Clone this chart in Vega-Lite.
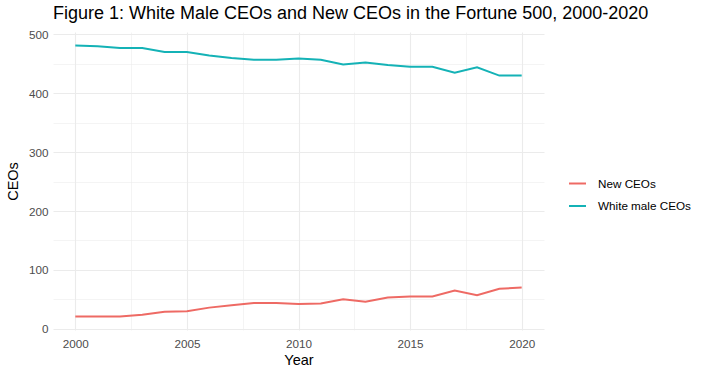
{
  "$schema": "https://vega.github.io/schema/vega-lite/v6.json",
  "autosize": "none",
  "width": 491,
  "height": 298,
  "padding": {"left": 53, "top": 32, "right": 166, "bottom": 46},
  "background": "white",
  "title": {
    "text": "Figure 1: White Male CEOs and New CEOs in the Fortune 500, 2000-2020",
    "anchor": "start",
    "frame": "group",
    "font": "Liberation Sans",
    "fontSize": 18,
    "fontWeight": "normal",
    "color": "black",
    "dx": 0,
    "offset": 6
  },
  "config": {
    "view": {"stroke": null},
    "axis": {
      "labelFont": "Liberation Sans",
      "titleFont": "Liberation Sans",
      "labelFontSize": 11.7,
      "titleFontSize": 14.5,
      "titleFontWeight": "normal",
      "labelColor": "#4D4D4D",
      "titleColor": "black",
      "domain": false,
      "ticks": false,
      "gridColor": "#EBEBEB"
    },
    "legend": {
      "labelFont": "Liberation Sans",
      "labelFontSize": 11.7,
      "labelColor": "black"
    }
  },
  "data": {
    "values": [
      {"Year": 2000, "series": "White male CEOs", "CEOs": 481},
      {"Year": 2001, "series": "White male CEOs", "CEOs": 480},
      {"Year": 2002, "series": "White male CEOs", "CEOs": 477},
      {"Year": 2003, "series": "White male CEOs", "CEOs": 477},
      {"Year": 2004, "series": "White male CEOs", "CEOs": 470},
      {"Year": 2005, "series": "White male CEOs", "CEOs": 470},
      {"Year": 2006, "series": "White male CEOs", "CEOs": 464},
      {"Year": 2007, "series": "White male CEOs", "CEOs": 460},
      {"Year": 2008, "series": "White male CEOs", "CEOs": 457},
      {"Year": 2009, "series": "White male CEOs", "CEOs": 457},
      {"Year": 2010, "series": "White male CEOs", "CEOs": 459},
      {"Year": 2011, "series": "White male CEOs", "CEOs": 457},
      {"Year": 2012, "series": "White male CEOs", "CEOs": 449},
      {"Year": 2013, "series": "White male CEOs", "CEOs": 452},
      {"Year": 2014, "series": "White male CEOs", "CEOs": 448},
      {"Year": 2015, "series": "White male CEOs", "CEOs": 445},
      {"Year": 2016, "series": "White male CEOs", "CEOs": 445},
      {"Year": 2017, "series": "White male CEOs", "CEOs": 435},
      {"Year": 2018, "series": "White male CEOs", "CEOs": 444},
      {"Year": 2019, "series": "White male CEOs", "CEOs": 430},
      {"Year": 2020, "series": "White male CEOs", "CEOs": 430},
      {"Year": 2000, "series": "New CEOs", "CEOs": 21},
      {"Year": 2001, "series": "New CEOs", "CEOs": 21},
      {"Year": 2002, "series": "New CEOs", "CEOs": 21},
      {"Year": 2003, "series": "New CEOs", "CEOs": 24},
      {"Year": 2004, "series": "New CEOs", "CEOs": 29},
      {"Year": 2005, "series": "New CEOs", "CEOs": 30},
      {"Year": 2006, "series": "New CEOs", "CEOs": 36},
      {"Year": 2007, "series": "New CEOs", "CEOs": 40},
      {"Year": 2008, "series": "New CEOs", "CEOs": 44},
      {"Year": 2009, "series": "New CEOs", "CEOs": 44},
      {"Year": 2010, "series": "New CEOs", "CEOs": 42},
      {"Year": 2011, "series": "New CEOs", "CEOs": 43},
      {"Year": 2012, "series": "New CEOs", "CEOs": 50},
      {"Year": 2013, "series": "New CEOs", "CEOs": 46},
      {"Year": 2014, "series": "New CEOs", "CEOs": 53},
      {"Year": 2015, "series": "New CEOs", "CEOs": 55},
      {"Year": 2016, "series": "New CEOs", "CEOs": 55},
      {"Year": 2017, "series": "New CEOs", "CEOs": 65},
      {"Year": 2018, "series": "New CEOs", "CEOs": 57},
      {"Year": 2019, "series": "New CEOs", "CEOs": 68},
      {"Year": 2020, "series": "New CEOs", "CEOs": 70}
    ]
  },
  "mark": {"type": "line", "strokeWidth": 2},
  "encoding": {
    "x": {
      "field": "Year",
      "type": "quantitative",
      "scale": {"domain": [1999, 2021], "nice": false, "zero": false},
      "axis": {
        "values": [2000, 2002.5, 2005, 2007.5, 2010, 2012.5, 2015, 2017.5, 2020],
        "labelExpr": "datum.value % 5 === 0 ? format(datum.value, 'd') : ''",
        "labelPadding": 8,
        "titlePadding": 4,
        "gridWidth": {"condition": {"test": "datum.value % 5 === 0", "value": 1.1}, "value": 0.55}
      }
    },
    "y": {
      "field": "CEOs",
      "type": "quantitative",
      "scale": {"domain": [-2, 504], "nice": false, "zero": false},
      "axis": {
        "values": [0, 50, 100, 150, 200, 250, 300, 350, 400, 450, 500],
        "labelExpr": "datum.value % 100 === 0 ? format(datum.value, 'd') : ''",
        "labelPadding": 5,
        "titlePadding": 8,
        "gridWidth": {"condition": {"test": "datum.value % 100 === 0", "value": 1.1}, "value": 0.55}
      }
    },
    "color": {
      "field": "series",
      "type": "nominal",
      "scale": {"domain": ["New CEOs", "White male CEOs"], "range": ["#EE6A64", "#14B2B6"]},
      "legend": {
        "title": null,
        "orient": "none",
        "legendX": 515,
        "legendY": 142,
        "padding": 0,
        "symbolType": "stroke",
        "symbolSize": 289,
        "symbolStrokeWidth": 2,
        "symbolOffset": 0,
        "labelOffset": 11,
        "rowPadding": 5.5
      }
    }
  }
}
